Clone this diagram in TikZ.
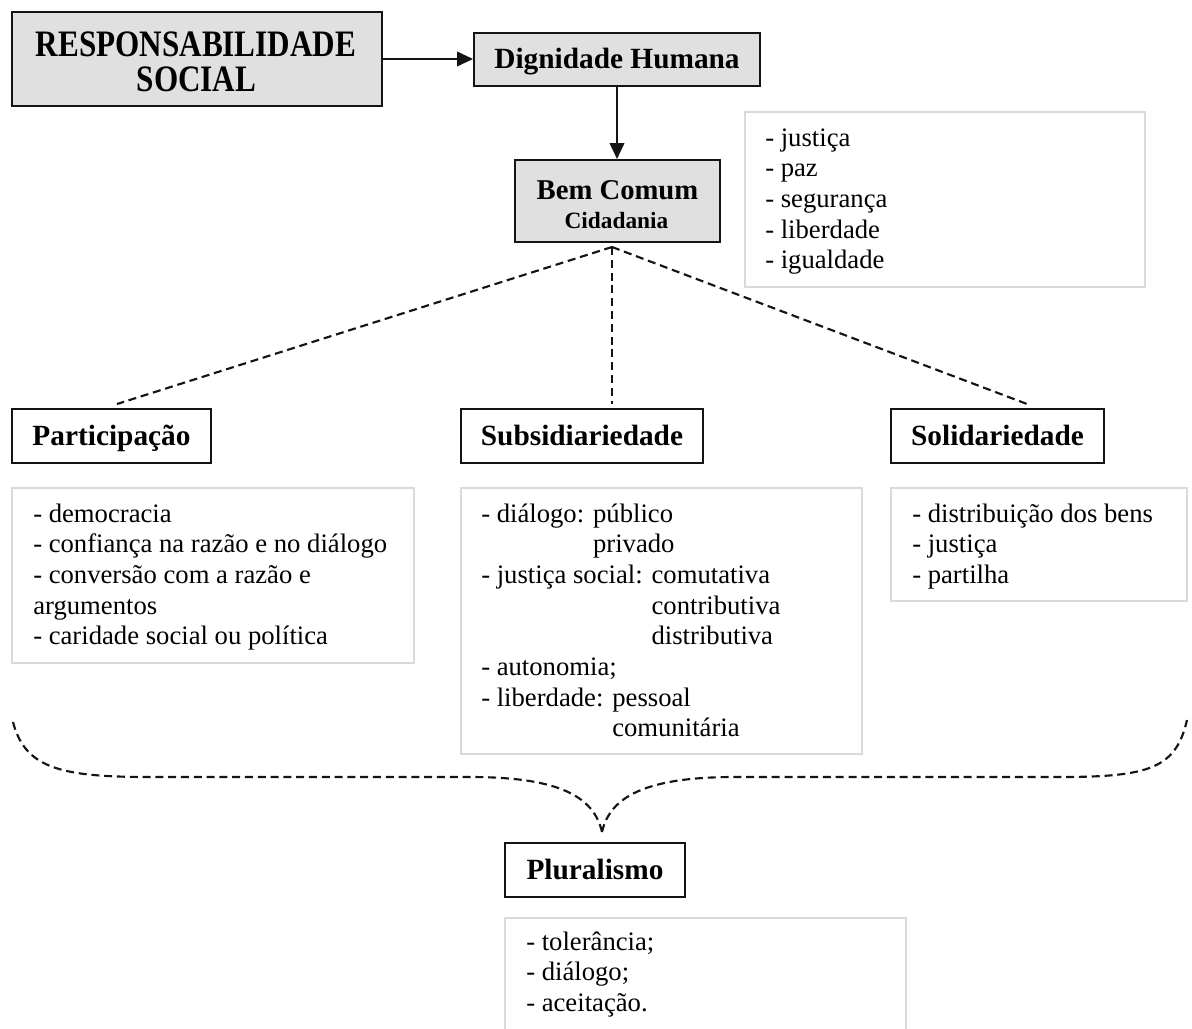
\documentclass[tikz,border=0pt]{standalone}
\usepackage{fontspec}
\setmainfont{Liberation Serif}
\usetikzlibrary{arrows.meta}
\definecolor{boxgray}{RGB}{224,224,224}
\definecolor{edgegray}{RGB}{218,218,218}
\definecolor{ink}{RGB}{20,20,20}
\begin{document}
\begin{tikzpicture}[x=0.75pt,y=-0.75pt,
  titlebox/.style={draw=ink, line width=1.5pt, inner sep=0pt, align=center,
    text height=15pt, text depth=1pt,
    font=\bfseries\fontsize{22}{24}\selectfont},
  grayfill/.style={fill=boxgray},
  boldtext/.style={anchor=base, inner sep=0pt, font=\bfseries},
  listbox/.style={draw=edgegray, line width=1pt, inner sep=0pt},
  listtext/.style={anchor=north west, inner sep=0pt, align=left,
    font=\fontsize{20}{23}\selectfont},
  link/.style={line width=1.3pt, draw=ink, -{Triangle[length=12pt,width=11pt]}},
  dashlink/.style={line width=1.6pt, draw=ink, dash pattern=on 6pt off 3.6pt},
]
\useasboundingbox (0,0) rectangle (1192,1028);
\fill[white] (0,0) rectangle (1192,1028);
\clip (0,0) rectangle (1192,1028);

% title boxes
\node[titlebox, grayfill, minimum width=277.5pt, minimum height=70.5pt] (rs) at (197,59) {};
\node[boldtext] (rs1) at (196,56) {\fontsize{28}{28}\selectfont\scalebox{0.835}[1]{RESPONSABILIDADE}};
\node[boldtext] (rs2) at (196.5,91) {\fontsize{28}{28}\selectfont\scalebox{0.835}[1]{SOCIAL}};
\node[titlebox, grayfill, minimum width=214.5pt, minimum height=39.75pt] (dig) at (617,59.5) {Dignidade Humana};
\node[titlebox, grayfill, minimum width=153.75pt, minimum height=61.5pt] (bc) at (617.5,201) {};
\node[boldtext] (bc1) at (617.5,199) {\fontsize{21.5}{24}\selectfont Bem Comum};
\node[boldtext] (bc2) at (616.5,228) {\fontsize{17.5}{20}\selectfont Cidadania};
\node[titlebox, minimum width=149.25pt, minimum height=40.5pt] (part) at (111.5,436) {Participação};
\node[titlebox, minimum width=181.5pt, minimum height=40.5pt] (sub) at (582,436) {Subsidiariedade};
\node[titlebox, minimum width=159.75pt, minimum height=40.5pt] (sol) at (997.5,436) {Solidariedade};
\node[titlebox, minimum width=135pt, minimum height=40.5pt] (plu) at (595,870) {Pluralismo};

% list boxes
\node[listbox, minimum width=300pt, minimum height=131.25pt] (lj) at (945,199.5) {};
\node[listbox, minimum width=301.5pt, minimum height=131.25pt] (lp) at (213,575.5) {};
\node[listbox, minimum width=300.75pt, minimum height=199.5pt] (ls) at (661.5,621) {};
\node[listbox, minimum width=222pt, minimum height=84.75pt] (lso) at (1039,544.5) {};
\node[listbox, minimum width=300.75pt, minimum height=95.25pt] (lpl) at (705.5,981.5) {};

% list texts
\node[listtext] (ljt) at (765,127.3)
  {\rule{0pt}{14pt}- justiça\\- paz\\- segurança\\- liberdade\\- igualdade};
\node[listtext] (lpt) at (33,503.3)
  {\rule{0pt}{14pt}- democracia\\- confiança na razão e no diálogo\\- conversão com a razão e\\argumentos\\- caridade social ou política};
\node[listtext] (lst) at (481,503.3)
  {\rule{0pt}{14pt}- diálogo: público\\\phantom{- diálogo: }privado\\- justiça social: comutativa\\\phantom{- justiça social: }contributiva\\\phantom{- justiça social: }distributiva\\- autonomia;\\- liberdade: pessoal\\\phantom{- liberdade: }comunitária};
\node[listtext] (lsot) at (912,503.3)
  {\rule{0pt}{14pt}- distribuição dos bens\\- justiça\\- partilha};
\node[listtext] (lplt) at (526,931.3)
  {\rule{0pt}{14pt}- tolerância;\\- diálogo;\\- aceitação.};

% arrows
\draw[link] (rs.east) -- (rs.east -| dig.west);
\draw[link] (dig.south) -- (dig.south |- bc.north);

% dashed links
\coordinate (apex) at (612,247);
\coordinate (pe) at (117,404);
\coordinate (se) at (612,404);
\coordinate (soe) at (1027,404);
\draw[dashlink] (apex) -- (pe);
\draw[dashlink] (apex) -- (se);
\draw[dashlink] (apex) -- (soe);

% brace
\coordinate (bl) at (13,722);
\coordinate (tip) at (602,832);
\coordinate (br) at (1187,720);
\draw[dashlink] (bl) .. controls (25,768) and (60,777) .. (150,777) -- (470,777)
  .. controls (560,777) and (594,797) .. (tip);
\draw[dashlink] (tip) .. controls (610,797) and (645,777) .. (735,777) -- (1060,777)
  .. controls (1150,777) and (1176,768) .. (br);
\end{tikzpicture}
\end{document}
